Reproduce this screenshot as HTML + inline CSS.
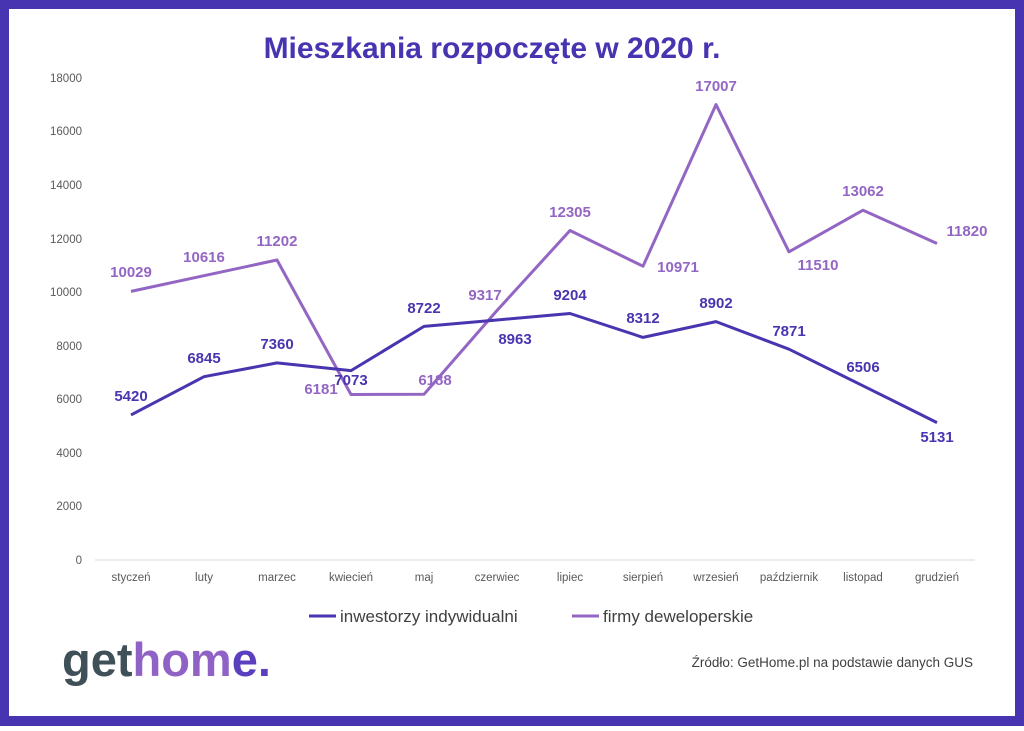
<!DOCTYPE html>
<html><head><meta charset="utf-8"><style>
html,body{margin:0;padding:0;background:#fff}
body{width:1024px;height:726px;overflow:hidden}
svg text{font-family:"Liberation Sans",sans-serif}
</style></head><body>
<svg width="1024" height="726" viewBox="0 0 1024 726">
<rect x="0" y="0" width="1024" height="726" fill="#4634b1"/>
<rect x="9" y="9" width="1006" height="707" fill="#fff"/>
<text x="492" y="58" text-anchor="middle" font-size="30" font-weight="bold" fill="#4634b1">Mieszkania rozpoczęte w 2020 r.</text>
<g font-size="11.5" fill="#595959" text-anchor="end">
<text x="82" y="564">0</text><text x="82" y="510">2000</text><text x="82" y="457">4000</text>
<text x="82" y="403">6000</text><text x="82" y="350">8000</text><text x="82" y="296">10000</text>
<text x="82" y="243">12000</text><text x="82" y="189">14000</text><text x="82" y="135">16000</text><text x="82" y="82">18000</text>
</g>
<line x1="95" y1="560" x2="975" y2="560" stroke="#d9d9d9" stroke-width="1"/>
<g font-size="11.5" fill="#595959" text-anchor="middle">
<text x="131" y="581">styczeń</text><text x="204" y="581">luty</text><text x="277" y="581">marzec</text><text x="351" y="581">kwiecień</text><text x="424" y="581">maj</text><text x="497" y="581">czerwiec</text><text x="570" y="581">lipiec</text><text x="643" y="581">sierpień</text><text x="716" y="581">wrzesień</text><text x="789" y="581">październik</text><text x="863" y="581">listopad</text><text x="937" y="581">grudzień</text>
</g>
<polyline fill="none" stroke="#9466c4" stroke-width="3" stroke-linejoin="round" points="131,291.4 204,275.7 277,260 351,394.5 424,394.3 497,310.5 570,230.5 643,266.2 716,104.6 789,251.8 863,210.2 937,243.5"/>
<polyline fill="none" stroke="#4a35b0" stroke-width="3" stroke-linejoin="round" points="131,414.9 204,376.7 277,362.9 351,370.6 424,326.4 497,320 570,313.5 643,337.4 716,321.6 789,349.2 863,385.8 937,422.6"/>
<g font-size="15" font-weight="bold" fill="#9466c4" text-anchor="middle">
<text x="131" y="277">10029</text><text x="204" y="262">10616</text><text x="277" y="246">11202</text><text x="321" y="394">6181</text><text x="435" y="385">6188</text><text x="485" y="300">9317</text><text x="570" y="217">12305</text><text x="678" y="272">10971</text><text x="716" y="91">17007</text><text x="818" y="270">11510</text><text x="863" y="196">13062</text><text x="967" y="236">11820</text>
</g>
<g font-size="15" font-weight="bold" fill="#4a35b0" text-anchor="middle">
<text x="131" y="401">5420</text><text x="204" y="363">6845</text><text x="277" y="349">7360</text><text x="351" y="385">7073</text><text x="424" y="313">8722</text><text x="515" y="344">8963</text><text x="570" y="300">9204</text><text x="643" y="323">8312</text><text x="716" y="308">8902</text><text x="789" y="336">7871</text><text x="863" y="372">6506</text><text x="937" y="442">5131</text>
</g>
<line x1="309" y1="616" x2="336" y2="616" stroke="#4a35b0" stroke-width="3"/>
<text x="340" y="622" font-size="17" fill="#404040">inwestorzy indywidualni</text>
<line x1="572" y1="616" x2="599" y2="616" stroke="#9466c4" stroke-width="3"/>
<text x="603" y="622" font-size="17" fill="#404040">firmy deweloperskie</text>
<text x="62" y="676" font-size="47" font-weight="bold" letter-spacing="0"><tspan fill="#3f5058">get</tspan><tspan fill="#9162c6">hom</tspan><tspan fill="#5b3fbf">e.</tspan></text>
<text x="973" y="667" text-anchor="end" font-size="13.5" fill="#404040">Źródło: GetHome.pl na podstawie danych GUS</text>
</svg>
</body></html>
